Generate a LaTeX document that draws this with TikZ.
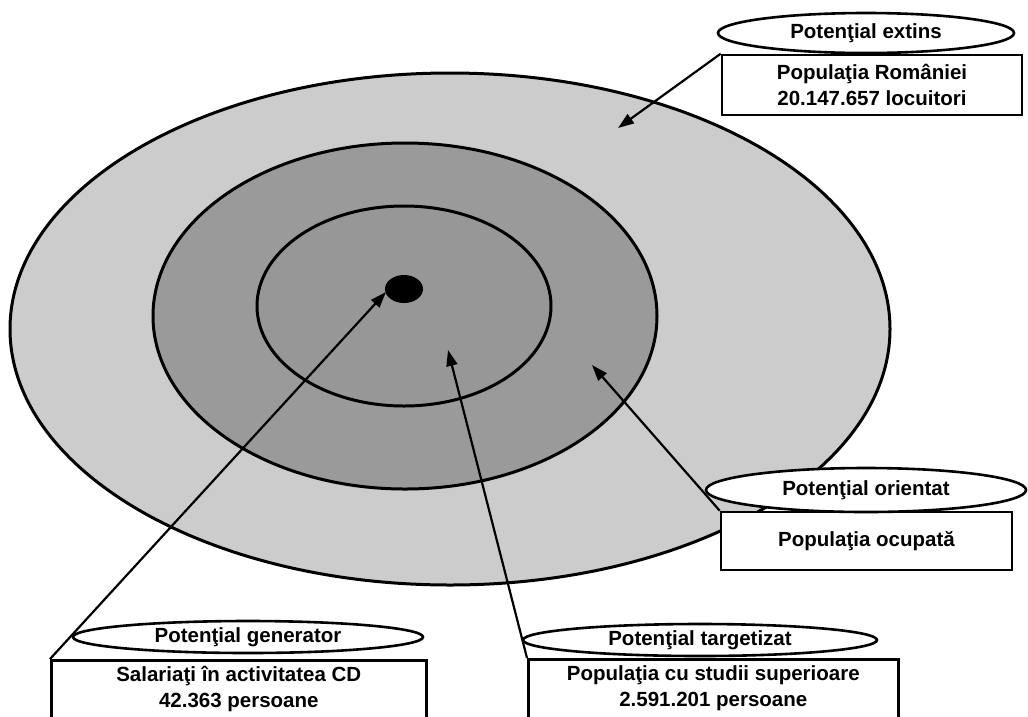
\documentclass[tikz,border=0pt]{standalone}
\usepackage{fontspec}
\setmainfont{Liberation Sans}
\usetikzlibrary{arrows.meta,shapes.geometric}
\definecolor{ringA}{HTML}{CCCCCC}
\definecolor{ringB}{HTML}{9A9A9A}
\definecolor{ringC}{HTML}{979797}
\tikzset{
  ring/.style={draw=black,line width=3pt},
  tag/.style={ellipse,draw=black,fill=white,line width=2.6pt,inner sep=0pt,font=\bfseries\fontsize{20.5}{23}\selectfont},
  infobox/.style={rectangle,draw=black,fill=white,line width=2.6pt,inner sep=0pt,align=center,font=\bfseries\fontsize{20.5}{26}\selectfont},
  pointer/.style={line width=2.2pt,-{Triangle[length=16pt,width=11pt]}}
}
\begin{document}
\begin{tikzpicture}[x=1pt,y=-1pt]
\useasboundingbox (0,0) rectangle (1028,716);
\clip (0,0) rectangle (1028,716);
% rings
\draw[ring,fill=ringA] (450,329) ellipse [x radius=440,y radius=256];
\draw[ring,fill=ringB] (405,316) ellipse [x radius=252,y radius=173];
\draw[ring,fill=ringC] (404,306) ellipse [x radius=147,y radius=100];
\fill[black] (404,289) ellipse [x radius=19,y radius=14];
\coordinate (dot) at (386,292);
\coordinate (tipA) at (618,128);
\coordinate (tipB) at (592,365);
\coordinate (tipC) at (448,350);
% boxes
\node[infobox,minimum width=300pt,minimum height=60pt] (boxA) at (872,85) {Populaţia României\\20.147.657 locuitori};
\node[tag,minimum width=296pt,minimum height=40pt] (tagA) at (866,33) {Potenţial extins};
\node[infobox,minimum width=291pt,minimum height=58pt] (boxB) at (866.5,541) {Populaţia ocupată};
\node[tag,minimum width=320pt,minimum height=44pt] (tagB) at (866,490) {Potenţial orientat};
\node[infobox,minimum width=375pt,minimum height=84pt,anchor=north west,text depth=30pt] (boxC) at (50,659) {Salariaţi în activitatea CD\\42.363 persoane};
\node[tag,minimum width=350pt,minimum height=32pt] (tagC) at (248,637) {Potenţial generator};
\node[infobox,minimum width=370pt,minimum height=84pt,anchor=north west,text depth=30pt] (boxD) at (527,658) {Populaţia cu studii superioare\\2.591.201 persoane};
\node[tag,minimum width=354pt,minimum height=32pt] (tagD) at (700,640) {Potenţial targetizat};
% connectors
\draw[pointer] (boxA.north west) -- (tipA);
\draw[pointer] (boxB.north west) -- (tipB);
\draw[pointer] (boxC.north west) -- (dot);
\draw[pointer] (boxD.north west) -- (tipC);
\end{tikzpicture}
\end{document}
